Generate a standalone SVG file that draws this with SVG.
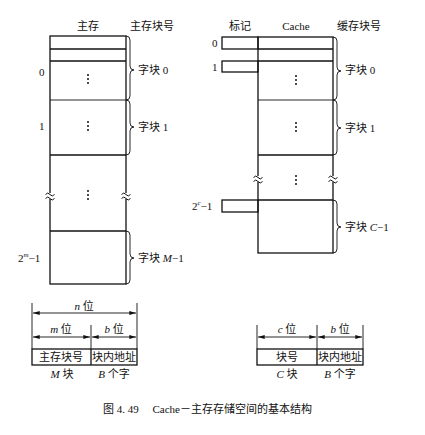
<svg xmlns="http://www.w3.org/2000/svg" width="425" height="435" viewBox="0 0 425 435">
<defs>
<style>
.t{font-family:"Liberation Serif","Noto Sans CJK SC",serif;font-size:11px;fill:#111}
.c{text-anchor:middle}
.i{font-style:italic}
.ln{stroke:#111;stroke-width:1.3;fill:none}
.th{stroke:#111;stroke-width:0.9;fill:none}
.br{stroke:#111;stroke-width:0.9;fill:none}
.dot{fill:#111}
</style>
<marker id="ah" viewBox="0 0 10 6" refX="10" refY="3" markerWidth="8" markerHeight="4" orient="auto-start-reverse" markerUnits="userSpaceOnUse"><path d="M0,0 L10,3 L0,6 z" fill="#111"/></marker>
<g id="vd"><circle cx="0" cy="-4" r="1" class="dot"/><circle cx="0" cy="0" r="1" class="dot"/><circle cx="0" cy="4" r="1" class="dot"/></g>
<g id="wv"><rect x="-4" y="-3" width="8" height="6" fill="#fff"/><path d="M-4.5,-1.5 q2.25,-3 4.5,0 t4.5,0 M-4.5,2.5 q2.25,-3 4.5,0 t4.5,0" stroke="#111" stroke-width="1" fill="none"/></g>
</defs>
<rect width="425" height="435" fill="#fff"/>

<g id="main-memory">
<text class="t c" x="88" y="30">主存</text>
<text class="t" x="130" y="30">主存块号</text>
<rect class="ln" x="50" y="36" width="76" height="248"/>
<line class="ln" x1="50" y1="49" x2="126" y2="49"/>
<line class="ln" x1="50" y1="61" x2="126" y2="61"/>
<line class="th" x1="50" y1="100" x2="126" y2="100"/>
<line class="ln" x1="50" y1="155" x2="126" y2="155"/>
<line class="ln" x1="50" y1="231" x2="126" y2="231"/>
<use href="#vd" x="88" y="79"/>
<use href="#vd" x="88" y="126"/>
<use href="#vd" x="88" y="195"/>
<use href="#wv" x="50" y="196"/>
<use href="#wv" x="126" y="196"/>
<text class="t" x="39" y="76">0</text>
<text class="t" x="39" y="130">1</text>
<text class="t" x="18" y="262">2<tspan class="i" font-size="7" dy="-5">m</tspan><tspan dy="5">−1</tspan></text>
<path class="br" d="M126,36 q4,0 4,4 v26 q0,4 4,4 q-4,0 -4,4 v22 q0,4 -4,4"/>
<path class="br" d="M126,100 q4,0 4,4 v19 q0,4 4,4 q-4,0 -4,4 v20 q0,4 -4,4"/>
<path class="br" d="M126,231 q4,0 4,4 v19 q0,4 4,4 q-4,0 -4,4 v18 q0,4 -4,4"/>
<text class="t" x="138" y="74">字块 0</text>
<text class="t" x="138" y="131">字块 1</text>
<text class="t" x="138" y="262">字块 <tspan class="i">M</tspan>−1</text>
</g>

<g id="cache">
<text class="t c" x="240" y="30">标记</text>
<text class="t c" x="296" y="30">Cache</text>
<text class="t" x="337" y="30">缓存块号</text>
<rect class="ln" x="258" y="37" width="75" height="216"/>
<line class="ln" x1="258" y1="49" x2="333" y2="49"/>
<line class="ln" x1="258" y1="61" x2="333" y2="61"/>
<line class="th" x1="258" y1="100" x2="333" y2="100"/>
<line class="ln" x1="258" y1="155" x2="333" y2="155"/>
<line class="ln" x1="258" y1="200" x2="333" y2="200"/>
<rect class="ln" x="222" y="37" width="36" height="12"/>
<rect class="ln" x="222" y="61" width="36" height="11"/>
<rect class="ln" x="222" y="200" width="36" height="12"/>
<use href="#vd" x="296" y="80"/>
<use href="#vd" x="296" y="127"/>
<use href="#vd" x="296" y="180"/>
<use href="#wv" x="258" y="179"/>
<use href="#wv" x="333" y="179"/>
<text class="t" x="212" y="47">0</text>
<text class="t" x="212" y="71">1</text>
<text class="t" x="192" y="210">2<tspan class="i" font-size="7" dy="-5">c</tspan><tspan dy="5">−1</tspan></text>
<path class="br" d="M333,37 q4,0 4,4 v26 q0,4 4,4 q-4,0 -4,4 v21 q0,4 -4,4"/>
<path class="br" d="M333,100 q4,0 4,4 v20 q0,4 4,4 q-4,0 -4,4 v19 q0,4 -4,4"/>
<path class="br" d="M333,200 q4,0 4,4 v19 q0,4 4,4 q-4,0 -4,4 v18 q0,4 -4,4"/>
<text class="t" x="345" y="74">字块 0</text>
<text class="t" x="345" y="132">字块 1</text>
<text class="t" x="345" y="231">字块 <tspan class="i">C</tspan>−1</text>
</g>

<g id="mm-address">
<line class="th" x1="32" y1="303" x2="32" y2="349"/>
<line class="th" x1="137" y1="303" x2="137" y2="349"/>
<line class="th" x1="91" y1="325" x2="91" y2="349"/>
<rect class="ln" x="32" y="349" width="105" height="16"/>
<line class="ln" x1="91" y1="349" x2="91" y2="365"/>
<text class="t c" x="84" y="310"><tspan class="i">n</tspan> 位</text>
<text class="t c" x="61" y="333"><tspan class="i">m</tspan> 位</text>
<text class="t c" x="114" y="333"><tspan class="i">b</tspan> 位</text>
<text class="t c" x="61" y="361">主存块号</text>
<text class="t c" x="114" y="361">块内地址</text>
<text class="t c" x="62" y="378"><tspan class="i">M</tspan> 块</text>
<text class="t c" x="114" y="378"><tspan class="i">B</tspan> 个字</text>
</g>

<g id="cache-address">
<line class="th" x1="257" y1="325" x2="257" y2="349"/>
<line class="th" x1="317" y1="325" x2="317" y2="349"/>
<line class="th" x1="363" y1="325" x2="363" y2="349"/>
<rect class="ln" x="257" y="349" width="106" height="16"/>
<line class="ln" x1="317" y1="349" x2="317" y2="365"/>
<text class="t c" x="287" y="333"><tspan class="i">c</tspan> 位</text>
<text class="t c" x="340" y="333"><tspan class="i">b</tspan> 位</text>
<text class="t c" x="287" y="361">块号</text>
<text class="t c" x="340" y="361">块内地址</text>
<text class="t c" x="287" y="378"><tspan class="i">C</tspan> 块</text>
<text class="t c" x="340" y="378"><tspan class="i">B</tspan> 个字</text>
</g>

<g id="connectors">
<line class="th" x1="33" y1="313" x2="136" y2="313" marker-start="url(#ah)" marker-end="url(#ah)"/>
<line class="th" x1="33" y1="337" x2="90" y2="337" marker-start="url(#ah)" marker-end="url(#ah)"/>
<line class="th" x1="92" y1="337" x2="136" y2="337" marker-start="url(#ah)" marker-end="url(#ah)"/>
<line class="th" x1="258" y1="337" x2="316" y2="337" marker-start="url(#ah)" marker-end="url(#ah)"/>
<line class="th" x1="318" y1="337" x2="362" y2="337" marker-start="url(#ah)" marker-end="url(#ah)"/>
</g>

<text class="t" x="103" y="413" font-size="11.5">图 4. 49　 Cache－主存存储空间的基本结构</text>
</svg>
